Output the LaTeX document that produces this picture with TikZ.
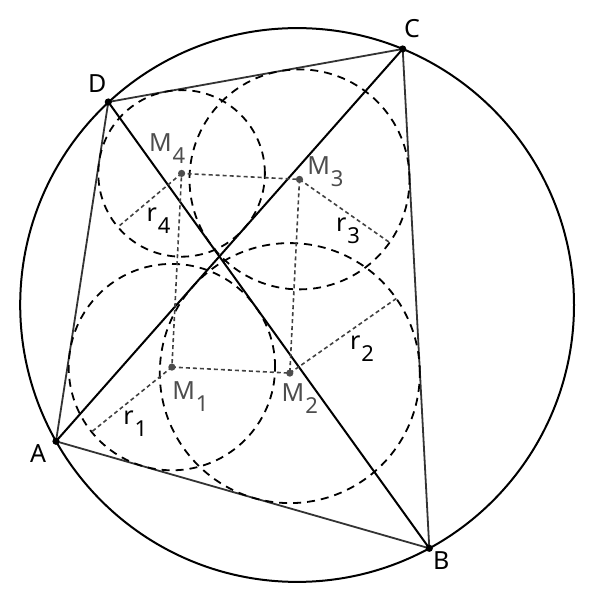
\documentclass[tikz,border=0pt]{standalone}
\usepackage{fontspec}
\setmainfont{Noto Sans}
\definecolor{ptgray}{HTML}{4D4D4D}
\definecolor{sidegray}{HTML}{333333}
\newcommand{\lsub}[1]{\kern1pt\raisebox{-11.5pt}{\fontsize{22}{22}\selectfont #1}}

\begin{document}
\begin{tikzpicture}[x=1pt, y=1pt, line width=2pt,
    side/.style = {draw=sidegray, line width=1.8pt},
    incircle/.style = {draw=black, dash pattern=on 8pt off 6pt, line width=1.8pt},
    link/.style = {draw=ptgray!85!black, dash pattern=on 4pt off 3pt, line width=1.6pt},
    lbl/.style = {anchor=base west, inner sep=0pt, font=\fontsize{25}{30}\selectfont},
    mlbl/.style = {lbl, text=ptgray}]
    \useasboundingbox (0,0) rectangle (595,600);

    % Eckpunkte und Umkreis
    \coordinate (A) at (56,158.7);
    \coordinate (B) at (429.3,51.7);
    \coordinate (C) at (402.7,551);
    \coordinate (D) at (108.3,498);
    \coordinate (O) at (297.1,295.0);

    % Inkreismittelpunkte
    \coordinate (M1) at (171.9,232.9);
    \coordinate (M2) at (289.8,226.9);
    \coordinate (M3) at (299.5,420.6);
    \coordinate (M4) at (181.6,426.6);

    \draw (O) circle[radius=276.9pt];

    \draw[side] (A) -- (B) -- (C) -- (D) -- cycle;
    \draw (A) -- (C);
    \draw (B) -- (D);

    \draw[incircle] (M1) circle[radius=103.2pt];
    \draw[incircle] (M2) circle[radius=130.0pt];
    \draw[incircle] (M3) circle[radius=110.0pt];
    \draw[incircle] (M4) circle[radius=83.3pt];

    % Rechteck und Radien
    \draw[link] (M1) -- (M2) -- (M3) -- (M4) -- cycle;
    \path (M1) ++(218.9:103.2) coordinate (R1);
    \path (M2) ++(35:130) coordinate (R2);
    \path (M3) ++(-35:110) coordinate (R3);
    \path (M4) ++(220.1:83.3) coordinate (R4);
    \draw[link] (M1) -- (R1);
    \draw[link] (M2) -- (R2);
    \draw[link] (M3) -- (R3);
    \draw[link] (M4) -- (R4);

    \foreach \p in {A,B,C,D}
        \fill (\p) circle[radius=3.6pt];
    \foreach \p in {M1,M2,M3,M4}
        \fill[ptgray] (\p) circle[radius=3.6pt];

    % Beschriftungen
    \node[lbl] (lA) at (29,137.7) {A};
    \node[lbl] (lB) at (432,30) {B};
    \node[lbl] (lC) at (403,562.7) {C};
    \node[lbl] (lD) at (87,507.7) {D};
    \node[mlbl] (lM1) at (171.3,200) {M\lsub{1}};
    \node[mlbl] (lM2) at (280.7,198.3) {M\lsub{2}};
    \node[mlbl] (lM3) at (306.3,425) {M\lsub{3}};
    \node[mlbl] (lM4) at (148,448.3) {M\lsub{4}};
    \node[lbl] (lr1) at (122.3,175) {r\lsub{1}};
    \node[lbl] (lr2) at (349,250) {r\lsub{2}};
    \node[lbl] (lr3) at (335,368.3) {r\lsub{3}};
    \node[lbl] (lr4) at (145.5,378.3) {r\lsub{4}};
\end{tikzpicture}
\end{document}
